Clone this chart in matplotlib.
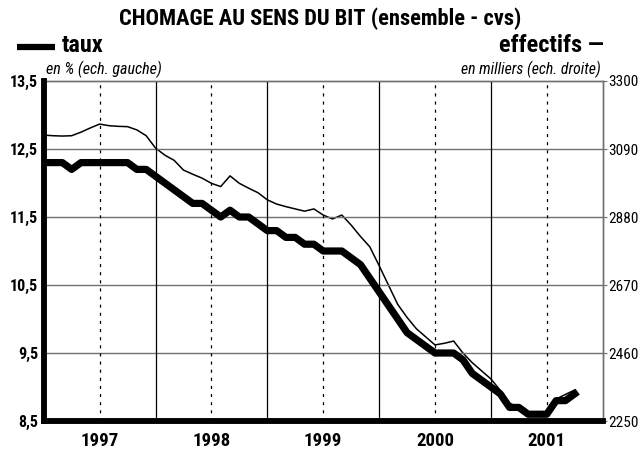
import numpy as np
import matplotlib as mpl
mpl.use("Agg")
import matplotlib.pyplot as plt
from matplotlib.lines import Line2D
import logging
logging.getLogger('matplotlib.font_manager').setLevel(logging.ERROR)

plt.rcParams['font.family'] = ['Roboto Condensed', 'Liberation Sans Narrow',
                               'Liberation Sans', 'DejaVu Sans']

# monthly data, Jan 1997 -> Oct 2001
taux = [12.3, 12.3, 12.3, 12.2, 12.3, 12.3, 12.3, 12.3, 12.3, 12.3, 12.2, 12.2,
        12.1, 12.0, 11.9, 11.8, 11.7, 11.7, 11.6, 11.5, 11.6, 11.5, 11.5, 11.4,
        11.3, 11.3, 11.2, 11.2, 11.1, 11.1, 11.0, 11.0, 11.0, 10.9, 10.8, 10.6,
        10.4, 10.2, 10.0, 9.8, 9.7, 9.6, 9.5, 9.5, 9.5, 9.4, 9.2, 9.1,
        9.0, 8.9, 8.7, 8.7, 8.6, 8.6, 8.6, 8.8, 8.8, 8.9]
effectifs = [3133, 3131, 3130, 3131, 3142, 3155, 3167, 3162, 3160, 3159, 3149, 3131,
             3093, 3071, 3055, 3025, 3012, 3000, 2984, 2974, 3007, 2984, 2969, 2955,
             2933, 2920, 2912, 2905, 2898, 2905, 2886, 2874, 2886, 2855, 2820, 2788,
             2730, 2670, 2610, 2570, 2535, 2510, 2485, 2490, 2497, 2460, 2430, 2405,
             2380, 2345, 2305, 2292, 2276, 2272, 2274, 2318, 2332, 2346]
years = ['1997', '1998', '1999', '2000', '2001']
left_ticks = [8.5, 9.5, 10.5, 11.5, 12.5, 13.5]
right_ticks = [2250, 2460, 2670, 2880, 3090, 3300]

months = np.arange(len(taux))

fig = plt.figure(figsize=(6.4, 4.5), dpi=100)
ax = fig.add_axes([0.0683, 0.0644, 0.8734, 0.7556])
ax2 = ax.twinx()

# grid
for v in left_ticks[1:-1]:
    ax.axhline(v, color='#707070', lw=1.0, zorder=1)
for k in range(1, 5):
    ax.axvline(12 * k, color='black', lw=0.9, zorder=1)
for k in range(5):
    ax.axvline(12 * k + 6, color='black', lw=0.9, ls=(0, (2.5, 4)), zorder=1)

ax.plot(months, taux, color='black', lw=5.2, solid_joinstyle='round', zorder=4)
ax2.plot(months, effectifs, color='black', lw=1.1, zorder=3)

ax.set_xlim(0, 60)
ax.set_ylim(8.5, 13.5)
ax2.set_ylim(2250, 3300)

ax.set_xticks([12 * k + 6 for k in range(5)])
ax.set_xticklabels(years, fontsize=13.5, fontweight='bold')
ax.tick_params('x', length=0, pad=8)
ax.set_yticks(left_ticks)
ax.set_yticklabels([str(v).replace('.', ',') for v in left_ticks],
                   fontsize=11.5, fontweight='bold')
ax.tick_params('y', length=0, pad=4)
ax2.set_yticks(right_ticks)
ax2.set_yticklabels([str(v) for v in right_ticks], fontsize=11)
ax2.tick_params('y', length=3, width=0.8, pad=1, color='#707070')

for a in (ax, ax2):
    a.spines['left'].set_linewidth(4)
    a.spines['bottom'].set_linewidth(4)
    a.spines['top'].set_color('#707070')
    a.spines['right'].set_color('#707070')
    a.spines['top'].set_linewidth(1.0)
    a.spines['right'].set_linewidth(1.0)
    a.spines['left'].set_zorder(5)
    a.spines['bottom'].set_zorder(5)
ax.set_zorder(ax2.get_zorder() + 1)
ax.patch.set_visible(False)

fig.text(0.5, 0.958, 'CHOMAGE AU SENS DU BIT (ensemble - cvs)', ha='center',
         va='center', fontsize=16.2, fontweight='bold')
fig.add_artist(Line2D([0.027, 0.086], [0.896, 0.896], color='black', lw=4.5,
                      solid_capstyle='butt', transform=fig.transFigure))
fig.text(0.097, 0.9, 'taux', ha='left', va='center', fontsize=17.5,
         fontweight='bold')
fig.text(0.943, 0.9, 'effectifs \u2014', ha='right', va='center',
         fontsize=17.5, fontweight='bold')
fig.text(0.072, 0.846, 'en % (ech. gauche)', ha='left', va='center',
         fontsize=11.5, style='italic')
fig.text(0.938, 0.846, 'en milliers (ech. droite)', ha='right', va='center',
         fontsize=11.3, style='italic')

fig.savefig('out.png', dpi=100)
